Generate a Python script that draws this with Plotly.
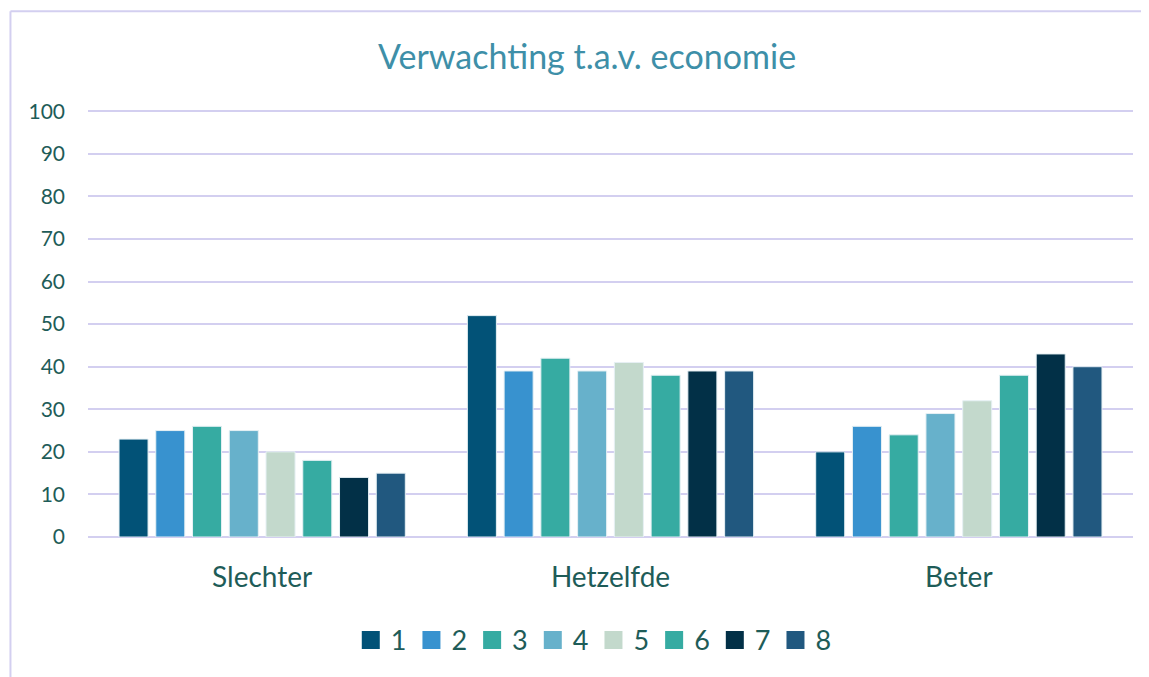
import plotly.graph_objects as go

categories = ["Slechter", "Hetzelfde", "Beter"]
series_names = ["1", "2", "3", "4", "5", "6", "7", "8"]
values = {
    "1": [23, 52, 20],
    "2": [25, 39, 26],
    "3": [26, 42, 24],
    "4": [25, 39, 29],
    "5": [20, 41, 32],
    "6": [18, 38, 38],
    "7": [14, 39, 43],
    "8": [15, 39, 40],
}
colors = ["#025277", "#3892CF", "#36ABA2", "#67B1CB", "#C3D9CC", "#36ABA2", "#023047", "#21587F"]
y_ticks = [0, 10, 20, 30, 40, 50, 60, 70, 80, 90, 100]

FONT = "Lato, 'Open Sans', sans-serif"
TXT = "#1E5C58"
GRID = "#D3CFF0"

fig = go.Figure()
for name, col in zip(series_names, colors):
    fig.add_trace(go.Bar(
        x=categories, y=values[name], name=name, showlegend=False,
        marker=dict(color=col, line=dict(color="#E6F0F4", width=1)),
    ))
# legend entries with larger square symbols
for name, col in zip(series_names, colors):
    fig.add_trace(go.Scatter(
        x=[None], y=[None], mode="markers", name=name,
        marker=dict(symbol="square", size=16, color=col, line=dict(color=col, width=2)),
    ))

fig.update_layout(
    width=1141, height=669,
    paper_bgcolor="white", plot_bgcolor="white",
    margin=dict(l=80, r=16, t=102, b=140),
    barmode="group", bargap=0.156, bargroupgap=0.21,
    title=dict(text="Verwachting t.a.v. economie", x=0.5075, xanchor="center",
               y=0.927, yanchor="middle",
               font=dict(family=FONT, size=34, color="#3E8FA8")),
    font=dict(family=FONT, color=TXT),
    legend=dict(orientation="h", x=0.484, xanchor="center", y=-0.242, yanchor="middle",
                font=dict(size=27, color=TXT), itemwidth=30, traceorder="normal"),
    xaxis=dict(showgrid=False, showline=False, tickfont=dict(size=28, color=TXT),
               ticks="", ticklabelstandoff=21),
    yaxis=dict(range=[0, 100.3], tickvals=y_ticks, showgrid=True, gridcolor=GRID, gridwidth=2,
               zeroline=True, zerolinecolor=GRID, zerolinewidth=2,
               tickfont=dict(size=21, color=TXT), ticks="", ticklabelstandoff=22),
    shapes=[
        dict(type="line", xref="paper", yref="paper", x0=-0.0742, x1=1.02, y0=1.2312, y1=1.2312,
             line=dict(color="#D3CFF0", width=2)),
        dict(type="line", xref="paper", yref="paper", x0=-0.0742, x1=-0.0742, y0=1.2312, y1=-0.34,
             line=dict(color="#D3CFF0", width=2)),
    ],
)

fig.write_html("out.html")
